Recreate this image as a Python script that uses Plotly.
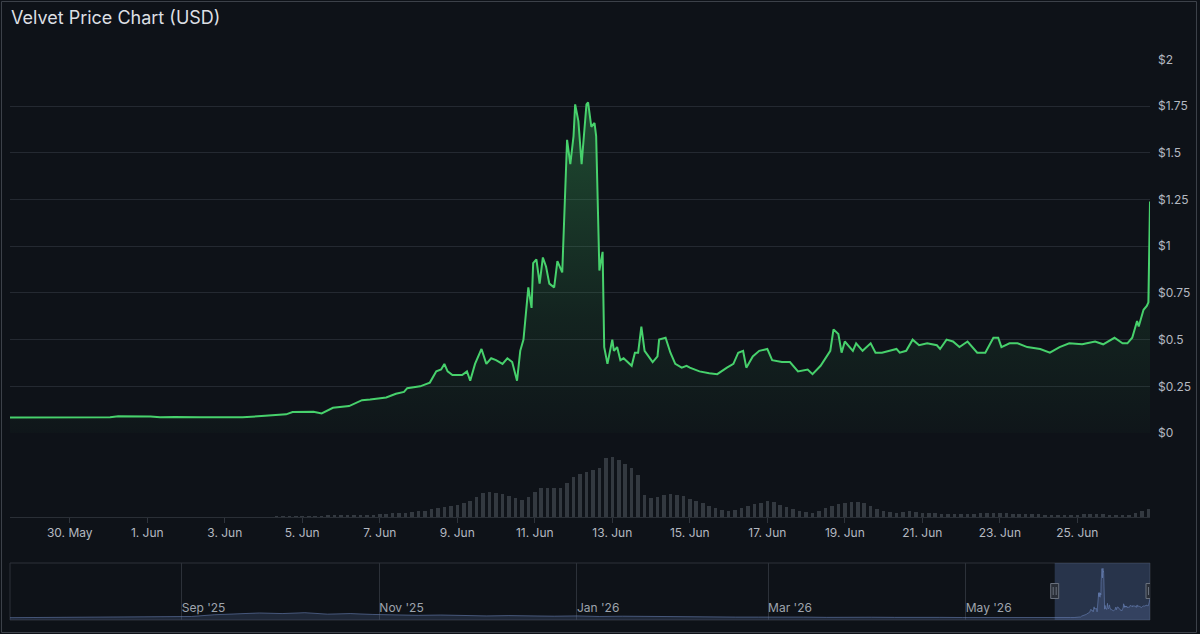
import plotly.graph_objects as go
import pandas as pd

# ---------------- data ----------------
SERIES_START = "2026-05-28 00:00"
price_hours = [11, 36, 67, 73, 78, 88, 98, 104, 113, 129,
               155, 169, 182, 186, 199, 204, 211, 221, 229, 234,
               244, 250, 255, 257, 265, 271, 275, 278, 280, 282,
               285, 291, 294, 296, 299, 303, 306, 309, 312, 316,
               319, 322, 325, 327, 329, 332, 334, 335, 337, 339,
               341, 343, 345, 348, 350, 353, 355, 356, 358, 360,
               361, 363, 365, 368, 369, 371, 373, 374, 376, 378,
               379, 381, 384, 385, 387, 389, 391, 396, 398, 400,
               402, 404, 409, 412, 413, 417, 420, 423, 427, 430,
               432, 438, 444, 449, 455, 459, 462, 465, 467, 471,
               475, 480, 483, 489, 494, 499, 505, 508, 513, 517,
               519, 521, 524, 526, 528, 533, 535, 539, 544, 547,
               551, 560, 562, 566, 570, 574, 579, 585, 587, 591,
               595, 599, 604, 610, 615, 620, 623, 625, 630, 635,
               641, 649, 655, 661, 667, 675, 683, 688, 695, 700,
               703, 706, 709, 710, 713, 715, 716, 717]
price_usd = [0.083, 0.083, 0.084, 0.085, 0.09, 0.09, 0.088, 0.084, 0.086, 0.084,
             0.084, 0.092, 0.10, 0.112, 0.114, 0.105, 0.135, 0.144, 0.176, 0.18,
             0.19, 0.21, 0.22, 0.24, 0.25, 0.27, 0.33, 0.34, 0.37, 0.33,
             0.31, 0.31, 0.33, 0.28, 0.37, 0.45, 0.37, 0.40, 0.39, 0.37,
             0.40, 0.38, 0.28, 0.44, 0.50, 0.78, 0.67, 0.91, 0.93, 0.80,
             0.94, 0.89, 0.80, 0.78, 0.92, 0.86, 1.32, 1.57, 1.44, 1.59,
             1.76, 1.67, 1.44, 1.76, 1.77, 1.64, 1.66, 1.59, 0.87, 0.97,
             0.46, 0.37, 0.50, 0.44, 0.46, 0.39, 0.40, 0.36, 0.43, 0.43,
             0.57, 0.44, 0.38, 0.41, 0.50, 0.51, 0.43, 0.37, 0.35, 0.36,
             0.35, 0.33, 0.32, 0.315, 0.35, 0.37, 0.43, 0.44, 0.35, 0.41,
             0.44, 0.45, 0.39, 0.38, 0.38, 0.33, 0.34, 0.315, 0.36, 0.41,
             0.44, 0.555, 0.53, 0.43, 0.49, 0.44, 0.48, 0.44, 0.48, 0.43,
             0.43, 0.45, 0.43, 0.44, 0.50, 0.47, 0.48, 0.47, 0.45, 0.50,
             0.49, 0.46, 0.49, 0.43, 0.43, 0.51, 0.51, 0.46, 0.48, 0.48,
             0.46, 0.45, 0.43, 0.46, 0.48, 0.475, 0.49, 0.475, 0.51, 0.48,
             0.48, 0.51, 0.60, 0.57, 0.66, 0.68, 0.70, 1.24]

VOLUME_START = "2026-05-28 12:00"
volume_musd = [0.01, 0.01, 0.01,
               0.01, 0.01, 0.01, 0.01, 0.01, 0.01,
               0.01, 0.01, 0.01, 0.01, 0.01, 0.01,
               0.01, 0.01, 0.01, 0.01, 0.01, 0.01,
               0.01, 0.01, 0.01, 0.01, 0.01, 0.01,
               0.01, 0.01, 0.01, 0.01, 0.01, 0.01,
               0.015, 0.015, 0.015, 0.018, 0.018, 0.02,
               0.02, 0.02, 0.03, 0.03, 0.04, 0.05,
               0.05, 0.06, 0.06, 0.07, 0.08, 0.08,
               0.09, 0.10, 0.10, 0.11, 0.12, 0.12,
               0.16, 0.16, 0.18, 0.20, 0.22, 0.24,
               0.28, 0.32, 0.40, 0.45, 0.50, 0.55,
               0.60, 0.70, 0.80, 1.00, 1.20, 1.25,
               1.22, 1.15, 1.05, 0.95, 0.85, 1.00,
               1.25, 1.45, 1.45, 1.45, 1.45, 1.70,
               2.00, 2.15, 2.25, 2.35, 2.45, 2.95,
               3.00, 2.85, 2.65, 2.45, 2.10, 1.10,
               0.95, 1.00, 1.10, 1.15, 1.12, 1.05,
               0.90, 0.80, 0.68, 0.55, 0.45, 0.35,
               0.30, 0.35, 0.45, 0.55, 0.65, 0.72,
               0.80, 0.75, 0.62, 0.50, 0.40, 0.30,
               0.25, 0.20, 0.30, 0.45, 0.55, 0.65,
               0.70, 0.75, 0.75, 0.70, 0.55, 0.40,
               0.30, 0.25, 0.22, 0.25, 0.28, 0.25,
               0.22, 0.20, 0.18, 0.17, 0.16, 0.17,
               0.16, 0.15, 0.16, 0.18, 0.20, 0.22,
               0.22, 0.20, 0.17, 0.14, 0.13, 0.13,
               0.13, 0.12, 0.12, 0.11, 0.12, 0.12,
               0.12, 0.13, 0.13, 0.14, 0.13, 0.12,
               0.11, 0.10, 0.10, 0.20, 0.30, 0.42]

history_dates = ["2025-07-10", "2025-07-17", "2025-07-24", "2025-07-31", "2025-08-07",
                 "2025-08-14", "2025-08-21", "2025-08-28", "2025-09-04", "2025-09-11",
                 "2025-09-18", "2025-09-25", "2025-10-02", "2025-10-09", "2025-10-16",
                 "2025-10-23", "2025-10-30", "2025-11-06", "2025-11-13", "2025-11-20",
                 "2025-11-27", "2025-12-04", "2025-12-11", "2025-12-18", "2025-12-25",
                 "2026-01-01", "2026-01-08", "2026-01-15", "2026-01-22", "2026-01-29",
                 "2026-02-05", "2026-02-12", "2026-02-19", "2026-02-26", "2026-03-05",
                 "2026-03-12", "2026-03-19", "2026-03-26", "2026-04-02", "2026-04-09",
                 "2026-04-16", "2026-04-23", "2026-04-30", "2026-05-07", "2026-05-14",
                 "2026-05-21"]
history_usd = [0.08, 0.085, 0.08, 0.085, 0.08, 0.085, 0.09, 0.09, 0.12, 0.18,
               0.22, 0.24, 0.22, 0.25, 0.20, 0.22, 0.19, 0.17, 0.16, 0.17,
               0.15, 0.14, 0.15, 0.13, 0.13, 0.14, 0.12, 0.13, 0.12, 0.11,
               0.10, 0.11, 0.10, 0.10, 0.11, 0.10, 0.09, 0.10, 0.095, 0.09,
               0.10, 0.09, 0.085, 0.09, 0.085, 0.085]

x_tick_dates = ["2026-05-30", "2026-06-01", "2026-06-03", "2026-06-05", "2026-06-07",
                "2026-06-09", "2026-06-11", "2026-06-13", "2026-06-15", "2026-06-17",
                "2026-06-19", "2026-06-21", "2026-06-23", "2026-06-25"]
x_tick_labels = ["30. May", "1. Jun", "3. Jun", "5. Jun", "7. Jun", "9. Jun", "11. Jun",
                 "13. Jun", "15. Jun", "17. Jun", "19. Jun", "21. Jun", "23. Jun", "25. Jun"]
y_tick_values = [0, 0.25, 0.5, 0.75, 1, 1.25, 1.5, 1.75, 2]
y_tick_labels = ["$0", "$0.25", "$0.5", "$0.75", "$1", "$1.25", "$1.5", "$1.75", "$2"]
nav_tick_dates = ["2025-09-01", "2025-11-01", "2026-01-01", "2026-03-01", "2026-05-01"]
nav_tick_labels = ["Sep '25", "Nov '25", "Jan '26", "Mar '26", "May '26"]

TITLE = "Velvet Price Chart (USD)"

# ---------------- derived ----------------
price_times = pd.Timestamp(SERIES_START) + pd.to_timedelta(price_hours, unit="h")
volume_times = pd.date_range(VOLUME_START, periods=len(volume_musd), freq="4h")
nav_times = list(pd.to_datetime(history_dates)) + list(price_times)
nav_values = history_usd + price_usd

# ---------------- style ----------------
W, H = 1200, 634
ML, MR = 10, 50
BG = "#0e1218"
GRID = "#242931"
TXT = "#b4b9c1"
GREEN = "#47d16c"
FONT = "Inter"

def fy(px):
    return 1 - px / H

def fx(px):
    return (px - ML) / (W - ML - MR)

fig = go.Figure()

fig.add_trace(go.Scatter(
    x=price_times, y=price_usd, mode="lines",
    line=dict(color=GREEN, width=2),
    fill="tozeroy",
    fillgradient=dict(type="vertical",
                      colorscale=[[0, "rgba(71,209,108,0.02)"],
                                  [0.35, "rgba(71,209,108,0.09)"],
                                  [1, "rgba(71,209,108,0.30)"]]),
    xaxis="x", yaxis="y", hoverinfo="skip", showlegend=False,
))

fig.add_trace(go.Bar(
    x=volume_times, y=volume_musd,
    width=4 * 3600 * 1000 * 0.55,
    marker=dict(color="rgba(140,148,160,0.30)", line=dict(width=0)),
    xaxis="x", yaxis="y2", hoverinfo="skip", showlegend=False,
))

fig.add_trace(go.Scatter(
    x=nav_times, y=nav_values, mode="lines",
    line=dict(color="rgba(110,135,190,0.55)", width=1),
    fill="tozeroy", fillcolor="rgba(96,120,175,0.22)",
    xaxis="x3", yaxis="y3", hoverinfo="skip", showlegend=False,
))

shapes = []
# overall frame
shapes.append(dict(type="rect", xref="paper", yref="paper",
                   x0=fx(1.5), x1=fx(1196.5), y0=fy(632.5), y1=fy(1.5),
                   line=dict(color="#3c4149", width=1), layer="below"))
# navigator outline
shapes.append(dict(type="rect", xref="paper", yref="paper",
                   x0=0, x1=1, y0=fy(620), y1=fy(563),
                   line=dict(color="#2c3139", width=1), layer="below"))
# navigator selection mask
sel0, sel1 = price_times[0], price_times[-1]
shapes.append(dict(type="rect", xref="x3", yref="paper",
                   x0=sel0, x1=sel1, y0=fy(620), y1=fy(563),
                   fillcolor="rgba(102,133,194,0.30)", line=dict(width=0), layer="below"))
# handles
for edge in (sel0, sel1):
    shapes.append(dict(type="rect", xref="x3", yref="paper", xsizemode="pixel",
                       xanchor=edge, x0=-4, x1=4, y0=fy(598.5), y1=fy(583.5),
                       fillcolor="#2a2f38", line=dict(color="#69707c", width=1)))
    for off in (-1.5, 1.5):
        shapes.append(dict(type="line", xref="x3", yref="paper", xsizemode="pixel",
                           xanchor=edge, x0=off, x1=off, y0=fy(595), y1=fy(587),
                           line=dict(color="#69707c", width=1)))

fig.update_layout(
    width=W, height=H, autosize=False,
    margin=dict(l=ML, r=MR, t=0, b=0, pad=0, autoexpand=False),
    paper_bgcolor=BG, plot_bgcolor=BG,
    font=dict(family=FONT, color=TXT, size=12),
    title=dict(text=TITLE, xref="container", yref="container", automargin=False,
               x=11 / W, y=fy(18), xanchor="left", yanchor="middle",
               font=dict(family=FONT, size=18, color="#dcdfe3")),
    bargap=0,
    shapes=shapes,
    xaxis=dict(domain=[0, 1], anchor="y2", type="date", automargin=False,
               range=[price_times[0], price_times[-1]],
               tickvals=x_tick_dates, ticktext=x_tick_labels,
               ticks="outside", ticklen=5, tickcolor="#30353d",
               showline=True, linecolor="#2a2f36", showgrid=False, zeroline=False,
               tickfont=dict(size=12, color=TXT)),
    yaxis=dict(domain=[fy(433), fy(59.5)], anchor="x", side="right", automargin=False,
               range=[0, 2], tickvals=y_tick_values, ticktext=y_tick_labels,
               showgrid=True, gridcolor=GRID, gridwidth=1, zeroline=False,
               showline=False, ticks="", ticklabelstandoff=7,
               tickfont=dict(size=12, color=TXT)),
    yaxis2=dict(domain=[fy(517), fy(445)], anchor="x", range=[0, 3.6], automargin=False,
                showgrid=False, zeroline=False, showticklabels=False, showline=False),
    xaxis3=dict(domain=[0, 1], anchor="y3", type="date", automargin=False,
                range=[nav_times[0], price_times[-1]],
                tickvals=nav_tick_dates, ticktext=nav_tick_labels,
                ticklabelposition="inside right", ticks="",
                showgrid=True, gridcolor="#2c3139", showline=False, zeroline=False,
                tickfont=dict(size=12, color="#9ea4ad")),
    yaxis3=dict(domain=[fy(620), fy(563)], anchor="x3", range=[0, 1.95], automargin=False,
                showgrid=False, zeroline=False, showticklabels=False, showline=False),
)

fig.write_html("out.html", post_script="document.body.style.margin='0';")
